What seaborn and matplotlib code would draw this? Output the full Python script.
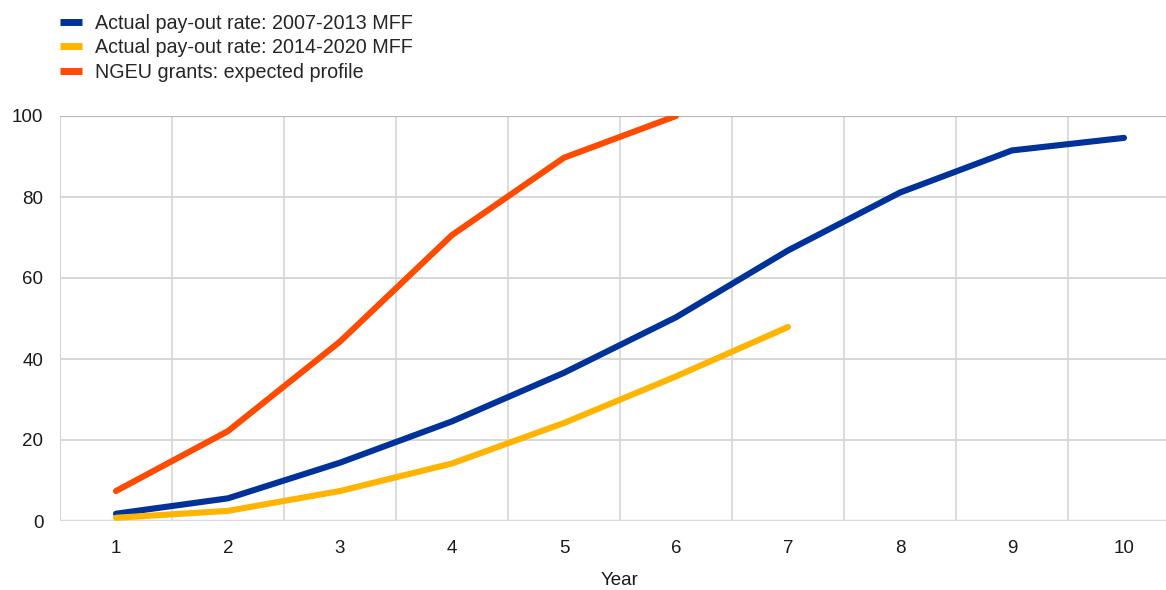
import numpy as np
import pandas as pd
import matplotlib
matplotlib.use("Agg")
import matplotlib.pyplot as plt
import seaborn as sns

years = list(range(1, 11))
mff_2007_2013 = [1.8, 5.6, 14.4, 24.6, 36.6, 50.3, 66.8, 81.1, 91.5, 94.6]
mff_2014_2020 = [0.8, 2.5, 7.4, 14.2, 24.2, 35.7, 47.9]
ngeu_grants = [7.4, 22.2, 44.3, 70.6, 89.7, 100.0]

series_names = [
    "Actual pay-out rate: 2007-2013 MFF",
    "Actual pay-out rate: 2014-2020 MFF",
    "NGEU grants: expected profile",
]
colors = ["#003299", "#FFB400", "#FF4B00"]
y_ticks = [0, 20, 40, 60, 80, 100]

rows = []
for name, vals in zip(series_names, [mff_2007_2013, mff_2014_2020, ngeu_grants]):
    for yr, v in zip(years, vals):
        rows.append({"Year": yr, "value": v, "series": name})
df = pd.DataFrame(rows)

sns.set_style("white")
plt.rcParams["font.family"] = ["Liberation Sans", "DejaVu Sans"]

fig = plt.figure(figsize=(11.66, 5.9), dpi=100)
ax = fig.add_axes([60 / 1166, 69 / 590, 1120 / 1166, 405 / 590])

sns.lineplot(data=df, x="Year", y="value", hue="series", hue_order=series_names,
             palette=colors, linewidth=4.4, ax=ax, legend=True,
             solid_capstyle="round")

ax.set_xlim(0.5, 10.5)
ax.set_ylim(0, 100)
ax.set_xticks(years)
ax.set_xticklabels([str(y) for y in years], fontsize=13.5, color="#1a1a1a")
ax.set_yticks(y_ticks)
ax.set_yticklabels([str(t) for t in y_ticks], fontsize=13.5, color="#1a1a1a")
ax.tick_params(axis="both", length=0)
ax.tick_params(axis="y", pad=12)
ax.tick_params(axis="x", pad=14)

# grid
for yv in y_ticks[1:-1]:
    ax.axhline(yv, color="#d4d4d4", lw=1.3, zorder=0)
for xv in np.arange(1.5, 10.5, 1.0):
    ax.axvline(xv, color="#d9d9d9", lw=1.3, zorder=0)
for s in ["left", "bottom", "top", "right"]:
    ax.spines[s].set_visible(False)
ax.axvline(0.5, color="#d4d4d4", lw=1.5, zorder=0)
ax.axhline(0, color="#d9d9d9", lw=2.5, zorder=0)
ax.axhline(100, color="#b8b8b8", lw=1.5, zorder=0)

ax.set_xlabel("Year", fontsize=13.5, color="#1a1a1a", labelpad=10.5)
ax.set_ylabel("")

handles, labels = ax.get_legend_handles_labels()
ax.get_legend().remove()
for h in handles:
    h.set_linewidth(5)
    h.set_solid_capstyle("butt")
fig.legend(handles, labels, loc="upper left", bbox_to_anchor=(60 / 1166, 1.0 - 14 / 590),
           frameon=False, fontsize=14.2, handlelength=1.13, handletextpad=0.66,
           labelspacing=0.27, borderaxespad=0, borderpad=0)

fig.savefig("out.png", dpi=100)
